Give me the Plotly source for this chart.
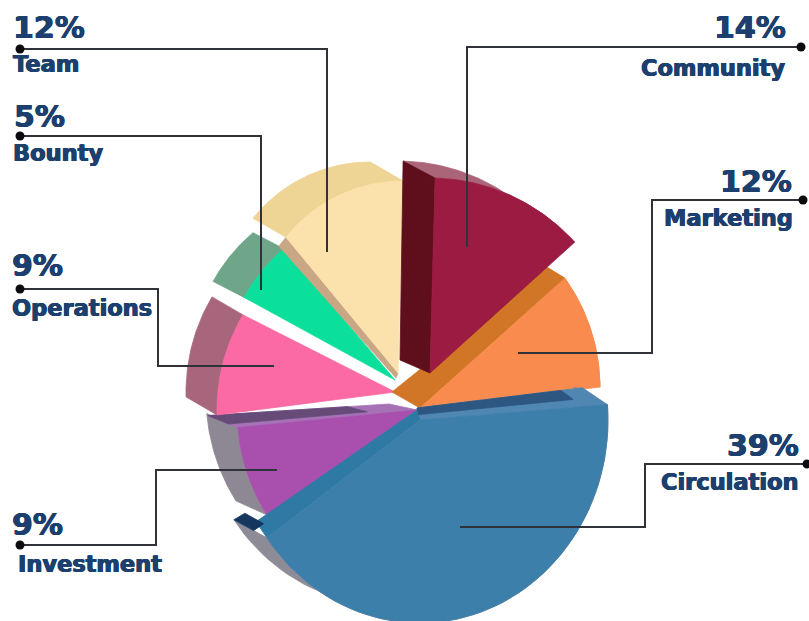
import numpy as np
import plotly.graph_objects as go

# Token allocation, in percent
categories = ["Circulation", "Investment", "Operations", "Bounty", "Team", "Community", "Marketing"]
shares = [39, 9, 9, 5, 12, 14, 12]

FACE = dict(Circulation="#3d7fab", Investment="#a94fae", Operations="#fb6aa3", Bounty="#0bdf9c",
            Team="#fbe2ad", Community="#9b1b43", Marketing="#f98b4e")
WALL = dict(Circulation="#8d8b96", Investment="#8e8794", Operations="#a8667c", Bounty="#6fa588",
            Team="#eed595", Community="#ab6579", Marketing="#e58a45")

# Per-slice projection: tip of the wedge, centre and radii of its rim, first rim angle
# (deg clockwise from east), perspective stretch on the sweep, extrusion of the outer wall.
GEOMETRY = {
    "Circulation": dict(apex=(420, 420), hub=(420, 420), rx=188, ry=203, start=-4.3, stretch=1.06, shift=(-33, -18)),
    "Investment": dict(apex=(417, 410), hub=(417, 410), rx=180, ry=190, start=146.5, stretch=0.87, shift=(-31, -14)),
    "Operations": dict(apex=(395, 392), hub=(404, 410), rx=187, ry=187, start=178.5, stretch=0.99, shift=(-31, -18)),
    "Bounty": dict(apex=(395, 380), hub=(395, 380), rx=172, ry=172, start=208.7, stretch=1.17, shift=(-31, -16)),
    "Team": dict(apex=(398, 373), hub=(403, 331), rx=150, ry=150, start=218.7, stretch=1.19, shift=(-33, -19)),
    "Community": dict(apex=(430, 373), hub=(430, 373), rx=195, ry=195, start=271.5, stretch=0.92, shift=(-32, -17)),
    "Marketing": dict(apex=(420, 408), hub=(411, 388), rx=189, ry=189, start=324.5, stretch=0.815, shift=(-18, -11)),
}

# Flat side walls along a radial edge: which edge, offset at the rim, offset at the apex, colour
# (a colour of None only sets up the frame for a strip)
RADIAL_WALLS = {
    "Circulation": [("start", (-25, -17), (-3, -12), "#4f86b2"),
                    ("end", (-11, -16), (-3, -10), "#2f7aa4"),
                    ("end", (-33, -18), (-3, -10), None)],
    "Investment": [("end", (-30, -12), (-28, -6), "#a672b6")],
    "Team": [("start", (-7, 9), (-2, 5), "#c9a684")],
    "Community": [("start", (-32, -17), (-30, -13), "#5f0f1c")],
    "Marketing": [("start", (-18, -11), (-28, -16), "#d07626")],
}

# Shaded strips on those walls: wall index, t range along the edge, s range across it, colour
WALL_STRIPS = {
    "Circulation": [(0, (0.0, 0.87), (0.45, 1.0), "#2d5681"), (2, (0.94, 1.0), (0.4, 1.0), "#15375f")],
    "Investment": [(0, (0.23, 1.0), (0.3, 1.0), "#664b78")],
}

DRAW_ORDER = ["Investment", "Operations", "Bounty", "Team", "Marketing", "Community", "Circulation"]

# Callout text and leader routes
PERCENT_POS = {
    "Team": (11, 27, "left"), "Bounty": (12, 116, "left"), "Operations": (10, 265, "left"),
    "Investment": (10, 524, "left"), "Community": (788, 27, "right"),
    "Marketing": (794, 181, "right"), "Circulation": (801, 445, "right"),
}
NAME_POS = {
    "Team": (11, 64, "left"), "Bounty": (11, 153, "left"), "Operations": (10, 308, "left"),
    "Investment": (16, 564, "left"), "Community": (787, 68, "right"),
    "Marketing": (795, 218, "right"), "Circulation": (801, 482, "right"),
}
LEADERS = {
    "Team": [(20, 49), (327, 49), (327, 252)],
    "Bounty": [(20, 136), (261, 136), (261, 290)],
    "Operations": [(20, 289), (158, 289), (158, 366), (274, 366)],
    "Investment": [(20, 545), (156, 545), (156, 470), (277, 470)],
    "Community": [(801, 47), (467, 47), (467, 247)],
    "Marketing": [(803, 200), (652, 200), (652, 353), (518, 353)],
    "Circulation": [(807, 464), (645, 464), (645, 527), (460, 527)],
}

INK = "#1c3f6e"
FONT = "DejaVu Sans"
HEAVY = f"0.6px 0 0 {INK}, -0.6px 0 0 {INK}, 0 0.4px 0 {INK}"

fig = go.Figure()


def polygon(points, color):
    xs, ys = zip(*points)
    fig.add_trace(go.Scatter(x=xs + xs[:1], y=ys + ys[:1], mode="lines", fill="toself",
                             line=dict(color=color, width=0.8), fillcolor=color,
                             hoverinfo="skip", showlegend=False))


def arc_points(g, share):
    sweep = share * 3.6 * g["stretch"]
    angles = np.radians(np.linspace(g["start"], g["start"] + sweep, 60))
    hx, hy = g["hub"]
    return list(zip(hx + g["rx"] * np.cos(angles), hy + g["ry"] * np.sin(angles)))


for name in DRAW_ORDER:
    g = GEOMETRY[name]
    share = shares[categories.index(name)]
    arc = arc_points(g, share)
    apex = g["apex"]
    dx, dy = g["shift"]

    # outer wall: the rim pushed back along the extrusion
    polygon(arc + [(x + dx, y + dy) for x, y in reversed(arc)], WALL[name])

    walls = RADIAL_WALLS.get(name, [])
    for edge, rim_off, apex_off, color in walls:
        if color is None:
            continue
        rim = arc[0] if edge == "start" else arc[-1]
        polygon([apex, rim, (rim[0] + rim_off[0], rim[1] + rim_off[1]),
                 (apex[0] + apex_off[0], apex[1] + apex_off[1])], color)

    for index, (t0, t1), (s0, s1), color in WALL_STRIPS.get(name, []):
        edge, rim_off, apex_off, _ = walls[index]
        rim = arc[0] if edge == "start" else arc[-1]

        def at(t, s):
            px = apex[0] + s * apex_off[0] + t * (rim[0] + s * rim_off[0] - apex[0] - s * apex_off[0])
            py = apex[1] + s * apex_off[1] + t * (rim[1] + s * rim_off[1] - apex[1] - s * apex_off[1])
            return px, py

        polygon([at(t0, s0), at(t1, s0), at(t1, s1), at(t0, s1)], color)

    # top face
    polygon([apex] + arc, FACE[name])

annotations = []
for name, share in zip(categories, shares):
    route = LEADERS[name]
    xs, ys = zip(*route)
    fig.add_trace(go.Scatter(x=xs, y=ys, mode="lines", line=dict(color="#30323a", width=2),
                             hoverinfo="skip", showlegend=False))
    fig.add_trace(go.Scatter(x=xs[:1], y=ys[:1], mode="markers", marker=dict(color="#0c0c10", size=9),
                             hoverinfo="skip", showlegend=False))
    px, py, side = PERCENT_POS[name]
    annotations.append(dict(x=px, y=py, text=f"<b>{share}%</b>", xanchor=side, yanchor="middle",
                            showarrow=False, font=dict(family=FONT, size=30, color=INK, shadow=HEAVY)))
    nx, ny, side = NAME_POS[name]
    annotations.append(dict(x=nx, y=ny, text=f"<b>{name}</b>", xanchor=side, yanchor="middle",
                            showarrow=False, font=dict(family=FONT, size=22.5, color=INK, shadow=HEAVY)))

fig.update_layout(
    width=809, height=621, margin=dict(l=0, r=0, t=0, b=0),
    paper_bgcolor="white", plot_bgcolor="white", showlegend=False,
    xaxis=dict(range=[0, 809], visible=False, fixedrange=True),
    yaxis=dict(range=[621, 0], visible=False, fixedrange=True),
    annotations=annotations,
)

fig.write_html("out.html")
